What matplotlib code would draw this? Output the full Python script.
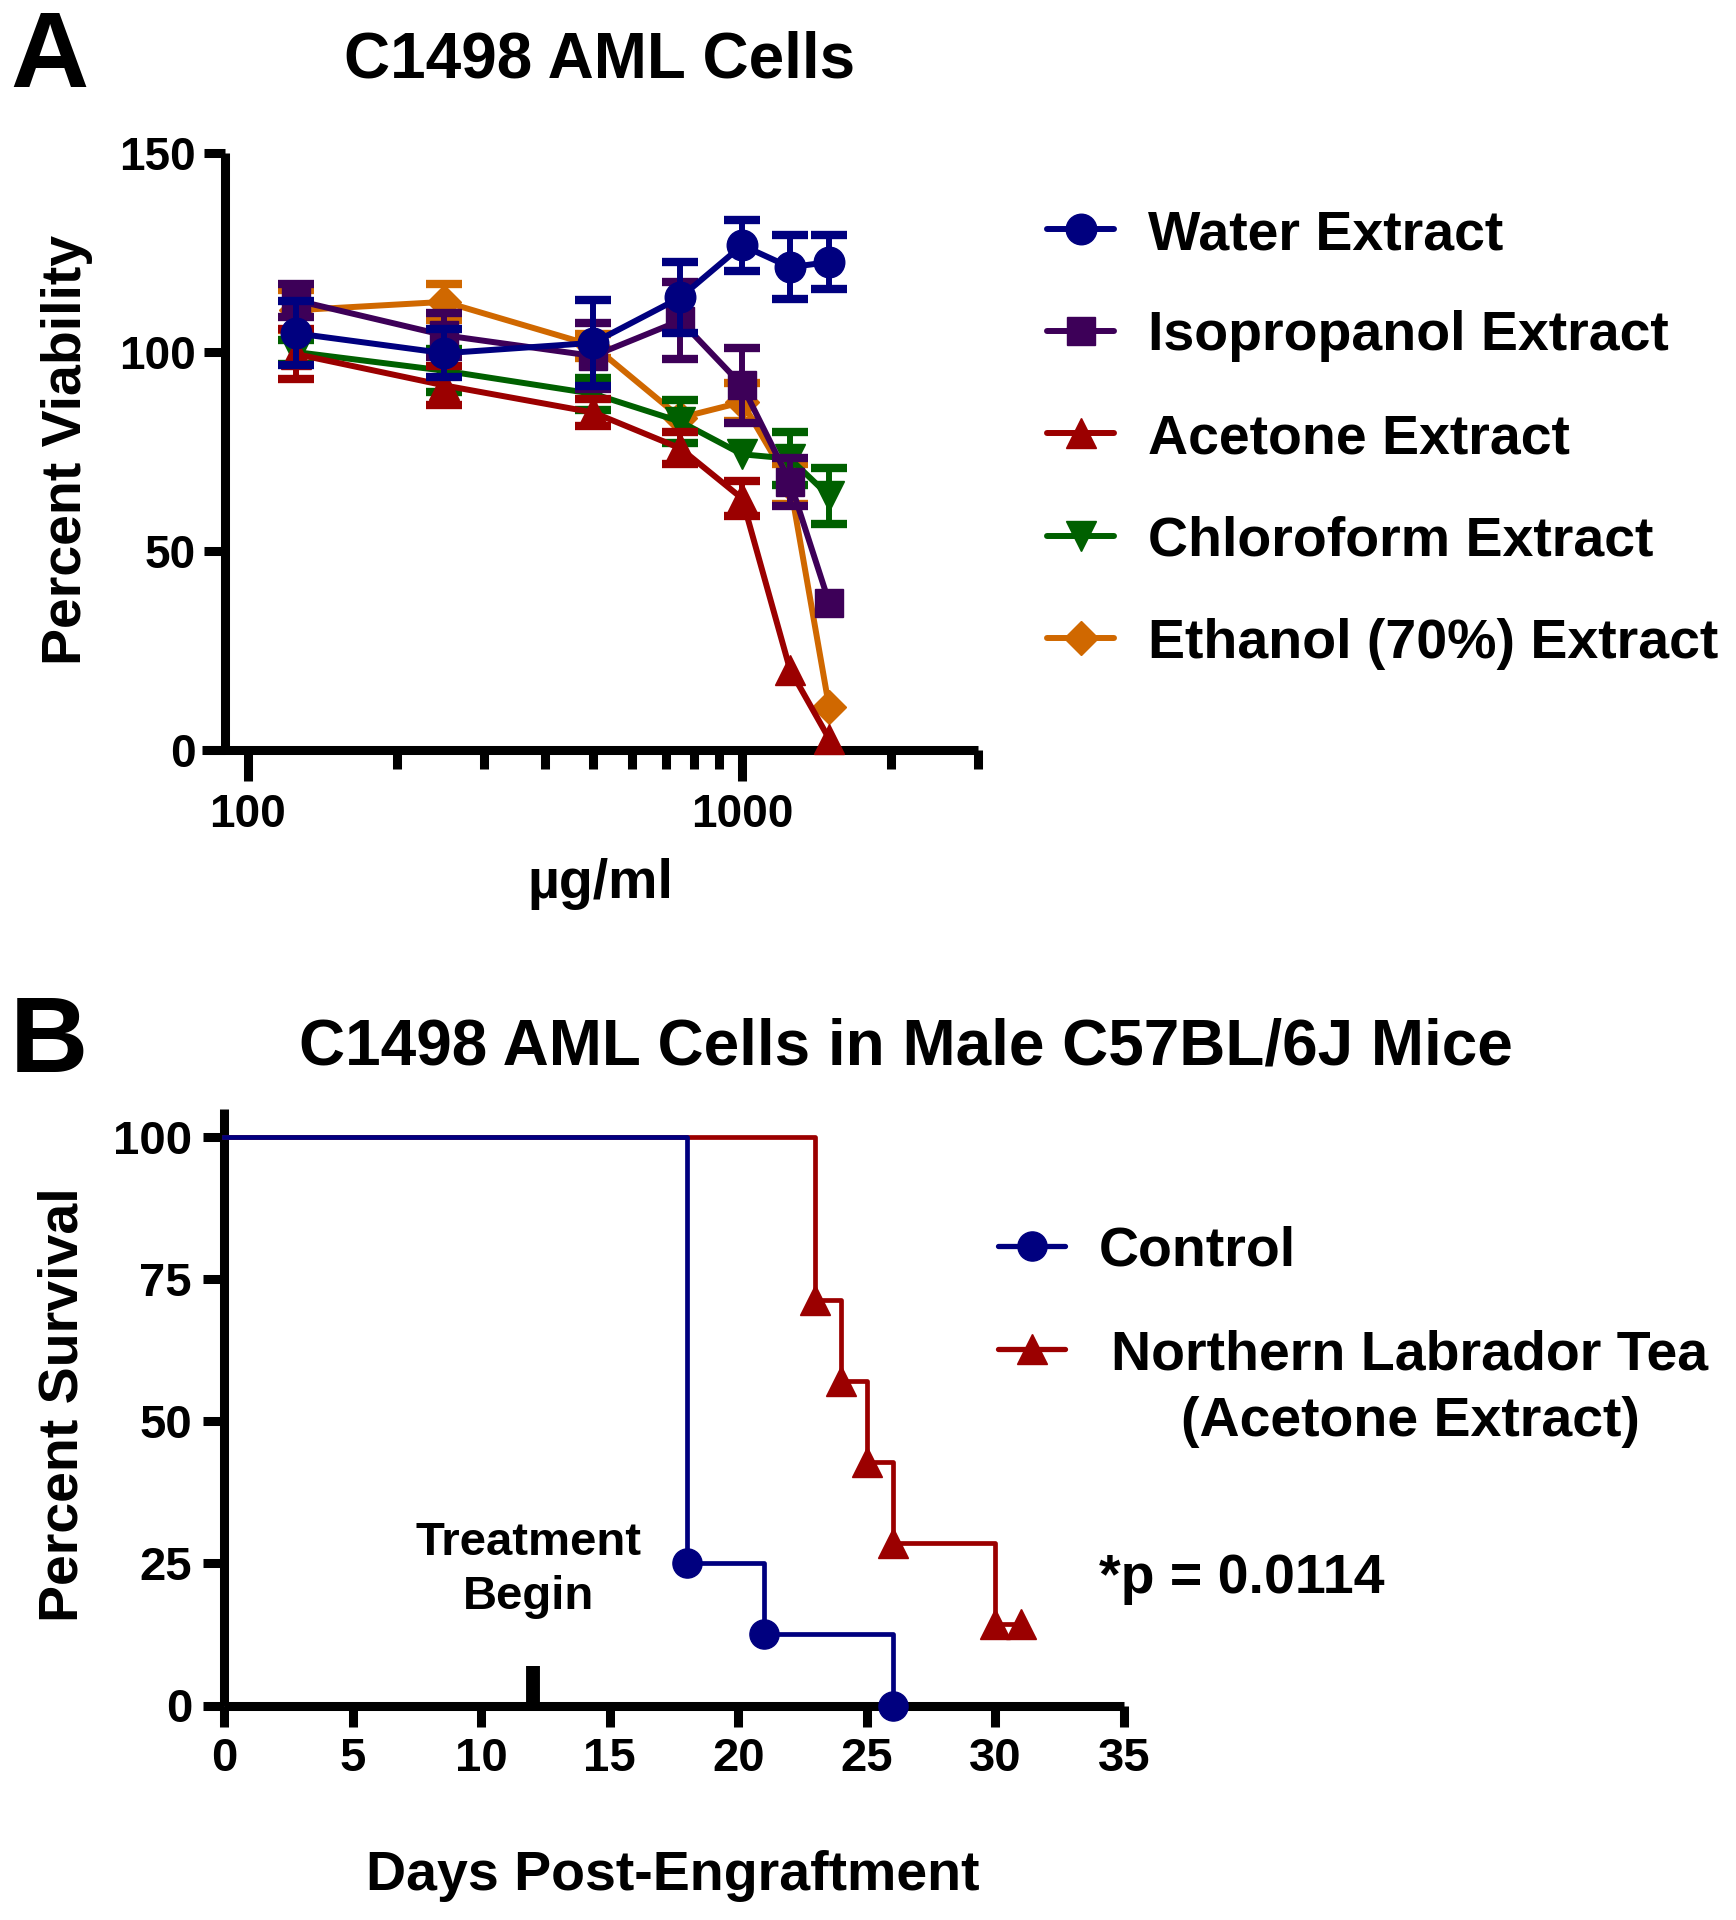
import matplotlib
matplotlib.use("Agg")
import matplotlib.pyplot as plt
from matplotlib.lines import Line2D
from matplotlib.ticker import NullFormatter

plt.rcParams['font.family'] = ['Liberation Sans', 'DejaVu Sans']
plt.rcParams['font.weight'] = 'bold'

# ---- panel A data (percent viability vs extract concentration) ----
conc = [125, 250, 500, 750, 1000, 1250, 1500]
water = [104.7, 99.7, 102.3, 113.7, 126.8, 121.3, 122.6]
water_err = [8.0, 6.0, 10.8, 8.9, 6.4, 8.1, 6.7]
iso = [113.0, 104.2, 99.0, 107.9, 91.6, 67.4, 37.0]
iso_err = [4.2, 5.5, 8.4, 9.7, 9.5, 6.0, 0.0]
acetone = [99.5, 91.6, 84.8, 75.8, 63.2, 20.2, 2.8]
acetone_err = [6.3, 4.9, 3.3, 4.0, 4.5, 0.0, 0.0]
chloro = [100.0, 95.3, 89.5, 82.5, 74.3, 73.2, 63.8]
chloro_err = [3.0, 5.4, 4.0, 5.4, 0.0, 6.6, 7.0]
ethanol = [110.5, 112.6, 101.6, 83.5, 87.4, 66.9, 10.7]
ethanol_err = [5.0, 4.6, 3.0, 0.0, 4.7, 5.0, 0.0]

names_a = ["Water Extract", "Isopropanol Extract", "Acetone Extract",
           "Chloroform Extract", "Ethanol (70%) Extract"]
colors_a = ["#00007F", "#3D0058", "#9B0000", "#006000", "#D06800"]
markers_a = ["o", "s", "^", "v", "D"]
msizes_a = [22, 20, 22, 22, 17]

# ---- panel B data (Kaplan-Meier survival) ----
ctrl_days = [0, 18, 21, 26]
ctrl_surv = [100, 25, 12.5, 0]
tea_days = [0, 23, 24, 25, 26, 30, 31]
tea_surv = [100, 71.4, 57.1, 42.9, 28.6, 14.3, 14.3]
treat_day = 12

W, H = 1736, 1920
fig = plt.figure(figsize=(W / 100, H / 100), dpi=100)


def fx(x):
    return x / W


def fy(y):
    return 1 - y / H


spine_w = 6.5

# ================= panel A =================
axA = fig.add_axes([fx(202.5), fy(750), fx(978) - fx(202.5), fy(153) - fy(750)])
ys = [water, iso, acetone, chloro, ethanol]
errs = [water_err, iso_err, acetone_err, chloro_err, ethanol_err]
for i in reversed(range(5)):
    z = 3 + 2 * (4 - i)
    # error bars only where the SEM is larger than the symbol
    ex = [c for c, e in zip(conc, errs[i]) if e > 0]
    ey = [v for v, e in zip(ys[i], errs[i]) if e > 0]
    ee = [e for e in errs[i] if e > 0]
    axA.errorbar(ex, ey, yerr=ee, fmt='none', ecolor=colors_a[i], elinewidth=4.3,
                 capsize=13, capthick=6, zorder=z, clip_on=False)
    axA.plot(conc, ys[i], color=colors_a[i], marker=markers_a[i],
             markersize=msizes_a[i], linewidth=4.3, zorder=z + 1, clip_on=False)
axA.set_xscale("log")
axA.set_xlim(81, 3000)
axA.set_ylim(0, 150)
axA.spines['left'].set_position(('data', 90))
axA.spines['top'].set_visible(False)
axA.spines['right'].set_visible(False)
for s in ['left', 'bottom']:
    axA.spines[s].set_linewidth(spine_w)
    axA.spines[s].set_capstyle('butt')
axA.set_yticks([0, 50, 100, 150])
axA.set_xticks([100, 1000])
axA.set_xticklabels(["100", "1000"])
axA.set_xticks([200, 300, 400, 500, 600, 700, 800, 900, 2000, 3000], minor=True)
axA.xaxis.set_minor_formatter(NullFormatter())
axA.tick_params(axis='y', which='major', length=15, width=spine_w, labelsize=33, pad=6)
axA.tick_params(axis='x', which='major', length=22, width=spine_w, labelsize=33, pad=9)
axA.tick_params(axis='x', which='minor', length=14, width=spine_w)
axA.patch.set_alpha(0)

# ================= panel B =================
axB = fig.add_axes([fx(224), fy(1705.5), fx(1124) - fx(224), fy(1109) - fy(1705.5)])
axB.step(tea_days, tea_surv, where='post', color="#9B0000", linewidth=3.4, zorder=3,
         clip_on=False)
axB.plot(tea_days[1:], tea_surv[1:], linestyle='none', marker='^', markersize=22,
         color="#9B0000", zorder=4, clip_on=False)
axB.step(ctrl_days, ctrl_surv, where='post', color="#00007F", linewidth=3.4, zorder=5,
         clip_on=False)
axB.plot(ctrl_days[1:], ctrl_surv[1:], linestyle='none', marker='o', markersize=21,
         color="#00007F", zorder=6, clip_on=False)
axB.plot([treat_day, treat_day], [0, 7], color='black', linewidth=10,
         solid_capstyle='butt', zorder=7, clip_on=False)
axB.set_xlim(0, 35)
axB.set_ylim(0, 105)
axB.spines['top'].set_visible(False)
axB.spines['right'].set_visible(False)
for s in ['left', 'bottom']:
    axB.spines[s].set_linewidth(spine_w)
    axB.spines[s].set_capstyle('butt')
axB.set_xticks(range(0, 36, 5))
axB.set_yticks([0, 25, 50, 75, 100])
axB.tick_params(axis='both', length=15, width=spine_w, labelsize=34, pad=8)
axB.patch.set_alpha(0)

for ax in (axA, axB):
    for lab in ax.get_xticklabels() + ax.get_yticklabels():
        lab.set_fontweight('bold')

# ================= text =================
fig.text(fx(49), fy(59), "A", fontsize=78, fontweight='bold', ha='center', va='center')
fig.text(fx(49), fy(1044), "B", fontsize=78, fontweight='bold', ha='center', va='center')
fig.text(fx(600), fy(61), "C1498 AML Cells", fontsize=46, fontweight='bold',
         ha='center', va='center')
fig.text(fx(906), fy(1047), "C1498 AML Cells in Male C57BL/6J Mice", fontsize=46,
         fontweight='bold', ha='center', va='center')
fig.text(fx(600), fy(884), "µg/ml", fontsize=40, fontweight='bold', ha='center', va='center')
fig.text(fx(673), fy(1876), "Days Post-Engraftment", fontsize=40, fontweight='bold',
         ha='center', va='center')
fig.text(fx(67), fy(450), "Percent Viability", fontsize=40, fontweight='bold',
         ha='center', va='center', rotation=90)
fig.text(fx(64), fy(1405), "Percent Survival", fontsize=40, fontweight='bold',
         ha='center', va='center', rotation=90)
fig.text(fx(529), fy(1570), "Treatment\nBegin", fontsize=34, fontweight='bold',
         ha='center', va='center', linespacing=1.3)
fig.text(fx(1099), fy(1579), "*p = 0.0114", fontsize=40, fontweight='bold',
         ha='left', va='center')

# legend A
rows_a = [229, 330.5, 433.4, 536, 638]
for i in range(5):
    y = fy(rows_a[i])
    fig.add_artist(Line2D([fx(1047), fx(1080.5), fx(1114)], [y, y, y],
                          color=colors_a[i], linewidth=4.3, marker=markers_a[i],
                          markersize=msizes_a[i], markevery=[1],
                          solid_capstyle='round'))
    fig.text(fx(1148), y, names_a[i], fontsize=40, fontweight='bold', ha='left',
             va='center_baseline')

# legend B
fig.add_artist(Line2D([fx(998), fx(1031.5), fx(1065)], [fy(1246)] * 3, color="#00007F",
                      linewidth=3.8, marker='o', markersize=21, markevery=[1],
                      solid_capstyle='round'))
fig.text(fx(1099), fy(1246), "Control", fontsize=40, fontweight='bold', ha='left',
         va='center_baseline')
fig.add_artist(Line2D([fx(998), fx(1031.5), fx(1065)], [fy(1349)] * 3, color="#9B0000",
                      linewidth=3.8, marker='^', markersize=22, markevery=[1],
                      solid_capstyle='round'))
fig.text(fx(1410), fy(1349), "Northern Labrador Tea", fontsize=40, fontweight='bold',
         ha='center', va='center_baseline')
fig.text(fx(1410), fy(1416), "(Acetone Extract)", fontsize=40, fontweight='bold',
         ha='center', va='center_baseline')

fig.savefig("out.png", dpi=100)
